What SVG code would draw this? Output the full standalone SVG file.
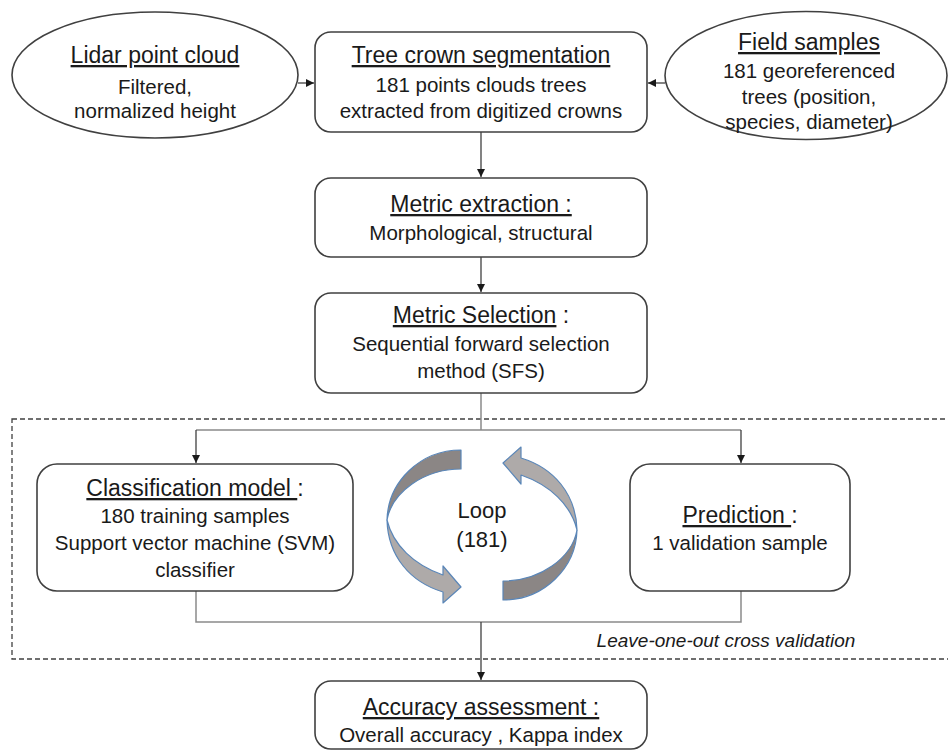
<svg xmlns="http://www.w3.org/2000/svg" width="948" height="753" viewBox="0 0 948 753">
<defs>
<style>
.t{font-family:"Liberation Sans",Arial,sans-serif;font-size:23px;fill:#1a1a1a;text-anchor:middle}
.b{font-size:20.5px}
.u{text-decoration:underline}
.box{fill:#fff;stroke:#404040;stroke-width:1.6}
.c{fill:none;stroke:#404040;stroke-width:1.3}
.g{fill:none;stroke:#8a8a8a;stroke-width:1.5}
.dk{fill:#8b8685;stroke:#5a86b8;stroke-width:1.2;stroke-linejoin:round}
.lt{fill:#aeaaa9;stroke:#5a86b8;stroke-width:1.2;stroke-linejoin:round}
</style>
<marker id="ah" viewBox="0 0 10 10" refX="10" refY="5" markerWidth="8" markerHeight="8" markerUnits="userSpaceOnUse" orient="auto">
<path d="M0,0 L10,5 L0,10 Z" fill="#1a1a1a"/>
</marker>
<path id="loopL" d="M461,450 C420,450 388,482 387,520 C392,492 424,469 461,469 Z"/>
</defs>
<rect width="948" height="753" fill="#fff"/>

<rect x="12" y="419" width="950" height="240" fill="none" stroke="#404040" stroke-width="1.3" stroke-dasharray="5,3"/>

<g id="connectors">
<path class="c" d="M298,83 H314" marker-end="url(#ah)"/>
<path class="c" d="M665,83 H648" marker-end="url(#ah)"/>
<path class="c" d="M481,132 V177" marker-end="url(#ah)"/>
<path class="c" d="M481,257 V292" marker-end="url(#ah)"/>
<path class="g" d="M481,393 V430 M196,430 H741"/>
<path class="c" d="M196,430 V463" marker-end="url(#ah)"/>
<path class="c" d="M741,430 V463" marker-end="url(#ah)"/>
<path class="g" d="M196,591 V622 H741 V591"/>
<path class="c" d="M481,622 V680" marker-end="url(#ah)"/>
</g>

<g id="lidar">
<ellipse cx="155" cy="75" rx="143" ry="63" class="box"/>
<text class="t" x="155" y="63"><tspan class="u">Lidar point cloud</tspan></text>
<text class="t b" x="155" y="94">Filtered,</text>
<text class="t b" x="155" y="118">normalized height</text>
</g>

<g id="segmentation">
<rect x="315" y="32" width="332" height="100" rx="16" class="box"/>
<text class="t" x="481" y="63"><tspan class="u">Tree crown segmentation</tspan></text>
<text class="t b" x="481" y="92">181 points clouds trees</text>
<text class="t b" x="481" y="118">extracted from digitized crowns</text>
</g>

<g id="field">
<ellipse cx="806" cy="75.5" rx="141" ry="64" class="box"/>
<text class="t" x="809" y="50"><tspan class="u">Field samples</tspan></text>
<text class="t b" x="809" y="78">181 georeferenced</text>
<text class="t b" x="809" y="104">trees (position,</text>
<text class="t b" x="809" y="129">species, diameter)</text>
</g>

<g id="extraction">
<rect x="315" y="178" width="332" height="79" rx="16" class="box"/>
<text class="t" x="481" y="212"><tspan class="u">Metric extraction :</tspan></text>
<text class="t b" x="481" y="240">Morphological, structural</text>
</g>

<g id="selection">
<rect x="315" y="293" width="332" height="100" rx="16" class="box"/>
<text class="t" x="481" y="323"><tspan class="u">Metric Selection</tspan> :</text>
<text class="t b" x="481" y="351">Sequential forward selection</text>
<text class="t b" x="481" y="378">method (SFS)</text>
</g>

<g id="classification">
<rect x="37" y="464" width="316" height="127" rx="20" class="box"/>
<text class="t" x="195" y="496"><tspan class="u">Classification model </tspan>:</text>
<text class="t b" x="195" y="523">180 training samples</text>
<text class="t b" x="195" y="550">Support vector machine (SVM)</text>
<text class="t b" x="195" y="577">classifier</text>
</g>

<g id="loop">
<use href="#loopL" class="dk"/>
<path class="lt" d="M387,520 C388,556 410,582 443,592 L443,603 L461,587 L443,566 L443,575 C414,565 393,545 387,520 Z"/>
<g transform="rotate(180 482 525)">
<use href="#loopL" class="dk"/>
<path class="lt" d="M387,520 C388,556 410,582 443,592 L443,603 L461,587 L443,566 L443,575 C414,565 393,545 387,520 Z"/>
</g>
<text class="t" x="482" y="518" style="font-size:22px">Loop</text>
<text class="t" x="482" y="547" style="font-size:22px">(181)</text>
</g>

<g id="prediction">
<rect x="630" y="464" width="220" height="127" rx="20" class="box"/>
<text class="t" x="740" y="523"><tspan class="u">Prediction </tspan>:</text>
<text class="t b" x="740" y="550">1 validation sample</text>
</g>

<g id="loocv">
<text class="t" x="726" y="647" style="font-size:19px;font-style:italic">Leave-one-out cross validation</text>
</g>

<g id="accuracy">
<rect x="315" y="681" width="332" height="68" rx="16" class="box"/>
<text class="t" x="481" y="715"><tspan class="u">Accuracy assessment :</tspan></text>
<text class="t b" x="481" y="742">Overall accuracy , Kappa index</text>
</g>
</svg>
